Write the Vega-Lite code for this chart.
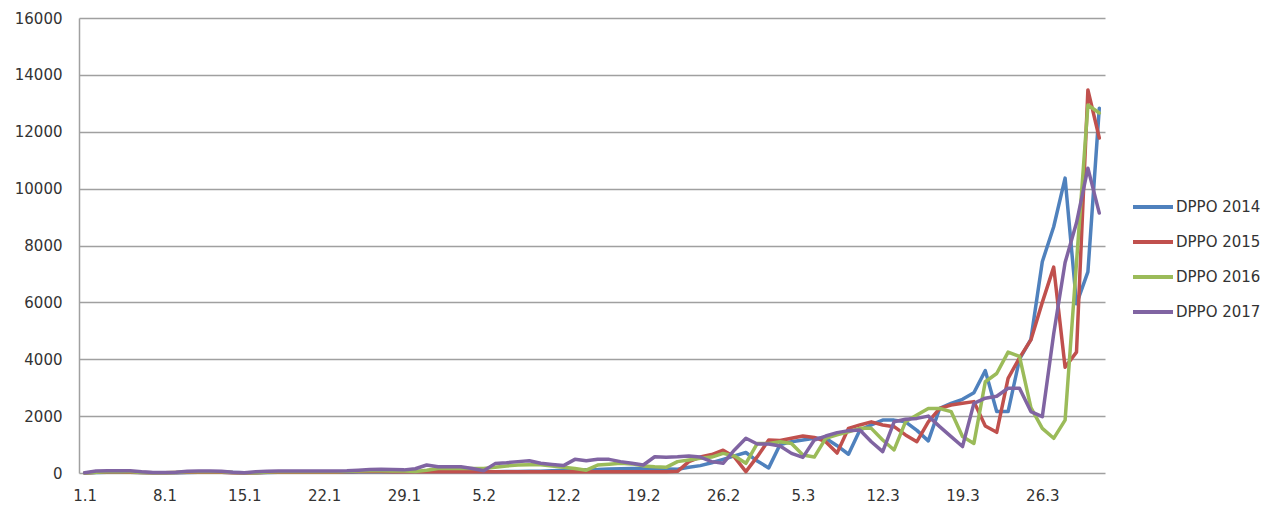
{
 "$schema": "https://vega.github.io/schema/vega-lite/v6.json",
 "width": 1026, "height": 455,
 "autosize": {"type": "none"},
 "padding": {"left": 79, "top": 18, "right": 162, "bottom": 33},
 "background": "white",
 "config": {"font": "DejaVu Sans", "view": {"stroke": null}},
 "data": {"values": [
{"d":"1.1","DPPO 2014":0,"DPPO 2015":0,"DPPO 2016":0,"DPPO 2017":10},
{"d":"2.1","DPPO 2014":20,"DPPO 2015":25,"DPPO 2016":30,"DPPO 2017":70},
{"d":"3.1","DPPO 2014":30,"DPPO 2015":35,"DPPO 2016":40,"DPPO 2017":80},
{"d":"4.1","DPPO 2014":30,"DPPO 2015":35,"DPPO 2016":40,"DPPO 2017":80},
{"d":"5.1","DPPO 2014":30,"DPPO 2015":30,"DPPO 2016":40,"DPPO 2017":75},
{"d":"6.1","DPPO 2014":20,"DPPO 2015":15,"DPPO 2016":20,"DPPO 2017":40},
{"d":"7.1","DPPO 2014":5,"DPPO 2015":5,"DPPO 2016":10,"DPPO 2017":15},
{"d":"8.1","DPPO 2014":5,"DPPO 2015":5,"DPPO 2016":5,"DPPO 2017":15},
{"d":"9.1","DPPO 2014":10,"DPPO 2015":15,"DPPO 2016":20,"DPPO 2017":30},
{"d":"10.1","DPPO 2014":20,"DPPO 2015":25,"DPPO 2016":40,"DPPO 2017":60},
{"d":"11.1","DPPO 2014":30,"DPPO 2015":30,"DPPO 2016":45,"DPPO 2017":70},
{"d":"12.1","DPPO 2014":30,"DPPO 2015":30,"DPPO 2016":45,"DPPO 2017":70},
{"d":"13.1","DPPO 2014":25,"DPPO 2015":25,"DPPO 2016":40,"DPPO 2017":60},
{"d":"14.1","DPPO 2014":15,"DPPO 2015":10,"DPPO 2016":20,"DPPO 2017":30},
{"d":"15.1","DPPO 2014":5,"DPPO 2015":0,"DPPO 2016":10,"DPPO 2017":10},
{"d":"16.1","DPPO 2014":5,"DPPO 2015":10,"DPPO 2016":10,"DPPO 2017":40},
{"d":"17.1","DPPO 2014":20,"DPPO 2015":25,"DPPO 2016":35,"DPPO 2017":65},
{"d":"18.1","DPPO 2014":25,"DPPO 2015":30,"DPPO 2016":40,"DPPO 2017":70},
{"d":"19.1","DPPO 2014":25,"DPPO 2015":30,"DPPO 2016":40,"DPPO 2017":70},
{"d":"20.1","DPPO 2014":25,"DPPO 2015":30,"DPPO 2016":40,"DPPO 2017":70},
{"d":"21.1","DPPO 2014":25,"DPPO 2015":30,"DPPO 2016":40,"DPPO 2017":70},
{"d":"22.1","DPPO 2014":25,"DPPO 2015":30,"DPPO 2016":40,"DPPO 2017":70},
{"d":"23.1","DPPO 2014":25,"DPPO 2015":30,"DPPO 2016":40,"DPPO 2017":70},
{"d":"24.1","DPPO 2014":30,"DPPO 2015":40,"DPPO 2016":50,"DPPO 2017":80},
{"d":"25.1","DPPO 2014":40,"DPPO 2015":50,"DPPO 2016":70,"DPPO 2017":100},
{"d":"26.1","DPPO 2014":45,"DPPO 2015":50,"DPPO 2016":80,"DPPO 2017":120},
{"d":"27.1","DPPO 2014":45,"DPPO 2015":50,"DPPO 2016":80,"DPPO 2017":130},
{"d":"28.1","DPPO 2014":40,"DPPO 2015":45,"DPPO 2016":70,"DPPO 2017":120},
{"d":"29.1","DPPO 2014":50,"DPPO 2015":50,"DPPO 2016":70,"DPPO 2017":110},
{"d":"30.1","DPPO 2014":50,"DPPO 2015":40,"DPPO 2016":50,"DPPO 2017":150},
{"d":"31.1","DPPO 2014":50,"DPPO 2015":40,"DPPO 2016":100,"DPPO 2017":280},
{"d":"1.2","DPPO 2014":50,"DPPO 2015":40,"DPPO 2016":160,"DPPO 2017":220},
{"d":"2.2","DPPO 2014":50,"DPPO 2015":40,"DPPO 2016":160,"DPPO 2017":220},
{"d":"3.2","DPPO 2014":50,"DPPO 2015":40,"DPPO 2016":160,"DPPO 2017":220},
{"d":"4.2","DPPO 2014":50,"DPPO 2015":40,"DPPO 2016":160,"DPPO 2017":160},
{"d":"5.2","DPPO 2014":40,"DPPO 2015":40,"DPPO 2016":160,"DPPO 2017":80},
{"d":"6.2","DPPO 2014":40,"DPPO 2015":40,"DPPO 2016":200,"DPPO 2017":330},
{"d":"7.2","DPPO 2014":50,"DPPO 2015":40,"DPPO 2016":250,"DPPO 2017":360},
{"d":"8.2","DPPO 2014":50,"DPPO 2015":40,"DPPO 2016":280,"DPPO 2017":400},
{"d":"9.2","DPPO 2014":60,"DPPO 2015":40,"DPPO 2016":290,"DPPO 2017":430},
{"d":"10.2","DPPO 2014":60,"DPPO 2015":40,"DPPO 2016":290,"DPPO 2017":340},
{"d":"11.2","DPPO 2014":80,"DPPO 2015":40,"DPPO 2016":250,"DPPO 2017":300},
{"d":"12.2","DPPO 2014":100,"DPPO 2015":40,"DPPO 2016":200,"DPPO 2017":260},
{"d":"13.2","DPPO 2014":100,"DPPO 2015":40,"DPPO 2016":160,"DPPO 2017":480},
{"d":"14.2","DPPO 2014":110,"DPPO 2015":40,"DPPO 2016":100,"DPPO 2017":430},
{"d":"15.2","DPPO 2014":120,"DPPO 2015":40,"DPPO 2016":280,"DPPO 2017":480},
{"d":"16.2","DPPO 2014":140,"DPPO 2015":40,"DPPO 2016":310,"DPPO 2017":480},
{"d":"17.2","DPPO 2014":150,"DPPO 2015":40,"DPPO 2016":340,"DPPO 2017":400},
{"d":"18.2","DPPO 2014":160,"DPPO 2015":40,"DPPO 2016":320,"DPPO 2017":340},
{"d":"19.2","DPPO 2014":160,"DPPO 2015":40,"DPPO 2016":250,"DPPO 2017":280},
{"d":"20.2","DPPO 2014":150,"DPPO 2015":40,"DPPO 2016":220,"DPPO 2017":570},
{"d":"21.2","DPPO 2014":140,"DPPO 2015":40,"DPPO 2016":200,"DPPO 2017":550},
{"d":"22.2","DPPO 2014":130,"DPPO 2015":60,"DPPO 2016":400,"DPPO 2017":570},
{"d":"23.2","DPPO 2014":200,"DPPO 2015":400,"DPPO 2016":460,"DPPO 2017":600},
{"d":"24.2","DPPO 2014":260,"DPPO 2015":560,"DPPO 2016":520,"DPPO 2017":560},
{"d":"25.2","DPPO 2014":360,"DPPO 2015":650,"DPPO 2016":560,"DPPO 2017":400},
{"d":"26.2","DPPO 2014":480,"DPPO 2015":800,"DPPO 2016":690,"DPPO 2017":340},
{"d":"27.2","DPPO 2014":600,"DPPO 2015":560,"DPPO 2016":600,"DPPO 2017":810},
{"d":"28.2","DPPO 2014":720,"DPPO 2015":50,"DPPO 2016":340,"DPPO 2017":1220},
{"d":"1.3","DPPO 2014":420,"DPPO 2015":575,"DPPO 2016":1040,"DPPO 2017":1020},
{"d":"2.3","DPPO 2014":180,"DPPO 2015":1160,"DPPO 2016":1040,"DPPO 2017":1020},
{"d":"3.3","DPPO 2014":1000,"DPPO 2015":1140,"DPPO 2016":1100,"DPPO 2017":950},
{"d":"4.3","DPPO 2014":1100,"DPPO 2015":1220,"DPPO 2016":1040,"DPPO 2017":690},
{"d":"5.3","DPPO 2014":1160,"DPPO 2015":1300,"DPPO 2016":630,"DPPO 2017":550},
{"d":"6.3","DPPO 2014":1220,"DPPO 2015":1250,"DPPO 2016":560,"DPPO 2017":1160},
{"d":"7.3","DPPO 2014":1220,"DPPO 2015":1100,"DPPO 2016":1220,"DPPO 2017":1300},
{"d":"8.3","DPPO 2014":960,"DPPO 2015":700,"DPPO 2016":1340,"DPPO 2017":1420},
{"d":"9.3","DPPO 2014":660,"DPPO 2015":1570,"DPPO 2016":1450,"DPPO 2017":1490},
{"d":"10.3","DPPO 2014":1510,"DPPO 2015":1690,"DPPO 2016":1570,"DPPO 2017":1510},
{"d":"11.3","DPPO 2014":1690,"DPPO 2015":1800,"DPPO 2016":1570,"DPPO 2017":1100},
{"d":"12.3","DPPO 2014":1860,"DPPO 2015":1690,"DPPO 2016":1160,"DPPO 2017":750},
{"d":"13.3","DPPO 2014":1860,"DPPO 2015":1630,"DPPO 2016":810,"DPPO 2017":1800},
{"d":"14.3","DPPO 2014":1800,"DPPO 2015":1340,"DPPO 2016":1800,"DPPO 2017":1890},
{"d":"15.3","DPPO 2014":1500,"DPPO 2015":1100,"DPPO 2016":2040,"DPPO 2017":1920},
{"d":"16.3","DPPO 2014":1130,"DPPO 2015":1800,"DPPO 2016":2270,"DPPO 2017":2000},
{"d":"17.3","DPPO 2014":2270,"DPPO 2015":2270,"DPPO 2016":2270,"DPPO 2017":1630},
{"d":"18.3","DPPO 2014":2450,"DPPO 2015":2390,"DPPO 2016":2160,"DPPO 2017":1280},
{"d":"19.3","DPPO 2014":2590,"DPPO 2015":2450,"DPPO 2016":1280,"DPPO 2017":930},
{"d":"20.3","DPPO 2014":2820,"DPPO 2015":2510,"DPPO 2016":1040,"DPPO 2017":2450},
{"d":"21.3","DPPO 2014":3600,"DPPO 2015":1650,"DPPO 2016":3210,"DPPO 2017":2630},
{"d":"22.3","DPPO 2014":2160,"DPPO 2015":1430,"DPPO 2016":3500,"DPPO 2017":2700},
{"d":"23.3","DPPO 2014":2160,"DPPO 2015":3330,"DPPO 2016":4250,"DPPO 2017":2980},
{"d":"24.3","DPPO 2014":4000,"DPPO 2015":4050,"DPPO 2016":4100,"DPPO 2017":2980},
{"d":"25.3","DPPO 2014":4700,"DPPO 2015":4680,"DPPO 2016":2300,"DPPO 2017":2160},
{"d":"26.3","DPPO 2014":7430,"DPPO 2015":6000,"DPPO 2016":1570,"DPPO 2017":1980},
{"d":"27.3","DPPO 2014":8660,"DPPO 2015":7240,"DPPO 2016":1220,"DPPO 2017":4900},
{"d":"28.3","DPPO 2014":10370,"DPPO 2015":3720,"DPPO 2016":1860,"DPPO 2017":7400},
{"d":"29.3","DPPO 2014":5950,"DPPO 2015":4250,"DPPO 2016":7400,"DPPO 2017":8800},
{"d":"30.3","DPPO 2014":7070,"DPPO 2015":13470,"DPPO 2016":12940,"DPPO 2017":10720},
{"d":"31.3","DPPO 2014":12830,"DPPO 2015":11780,"DPPO 2016":12660,"DPPO 2017":9140}
 ]},
 "transform": [{"fold": ["DPPO 2014", "DPPO 2015", "DPPO 2016", "DPPO 2017"], "as": ["series", "value"]}],
 "mark": {"type": "line", "strokeWidth": 3.5, "strokeJoin": "round", "strokeCap": "round"},
 "encoding": {
  "x": {"field": "d", "type": "ordinal", "sort": null,
        "scale": {"type": "point", "padding": 0.5},
        "axis": {"values": ["1.1","8.1","15.1","22.1","29.1","5.2","12.2","19.2","26.2","5.3","12.3","19.3","26.3"],
                 "labelAngle": 0, "title": null, "ticks": false, "domain": false, "grid": false,
                 "labelPadding": 15, "labelFontSize": 15, "labelColor": "#333333", "labelFont": "DejaVu Sans"}},
  "y": {"field": "value", "type": "quantitative",
        "scale": {"domain": [0, 16000], "nice": false},
        "axis": {"values": [0,2000,4000,6000,8000,10000,12000,14000,16000], "format": "d",
                 "title": null, "ticks": false, "domain": true, "domainColor": "#a0a0a0", "domainWidth": 1.5,
                 "grid": true, "gridColor": "#a0a0a0", "gridWidth": 1.5,
                 "labelPadding": 17, "labelFontSize": 15, "labelColor": "#333333", "labelFont": "DejaVu Sans"}},
  "color": {"field": "series", "type": "nominal",
            "scale": {"domain": ["DPPO 2014", "DPPO 2015", "DPPO 2016", "DPPO 2017"],
                      "range": ["#4F81BD", "#C0504D", "#9BBB59", "#8064A2"]},
            "legend": {"title": null, "orient": "none", "legendX": 1052, "legendY": 167,
                       "symbolType": "stroke", "symbolSize": 1600, "symbolStrokeWidth": 4,
                       "labelFontSize": 15, "labelColor": "#333333", "labelFont": "DejaVu Sans",
                       "rowPadding": 5, "labelOffset": 1}}
 }
}
